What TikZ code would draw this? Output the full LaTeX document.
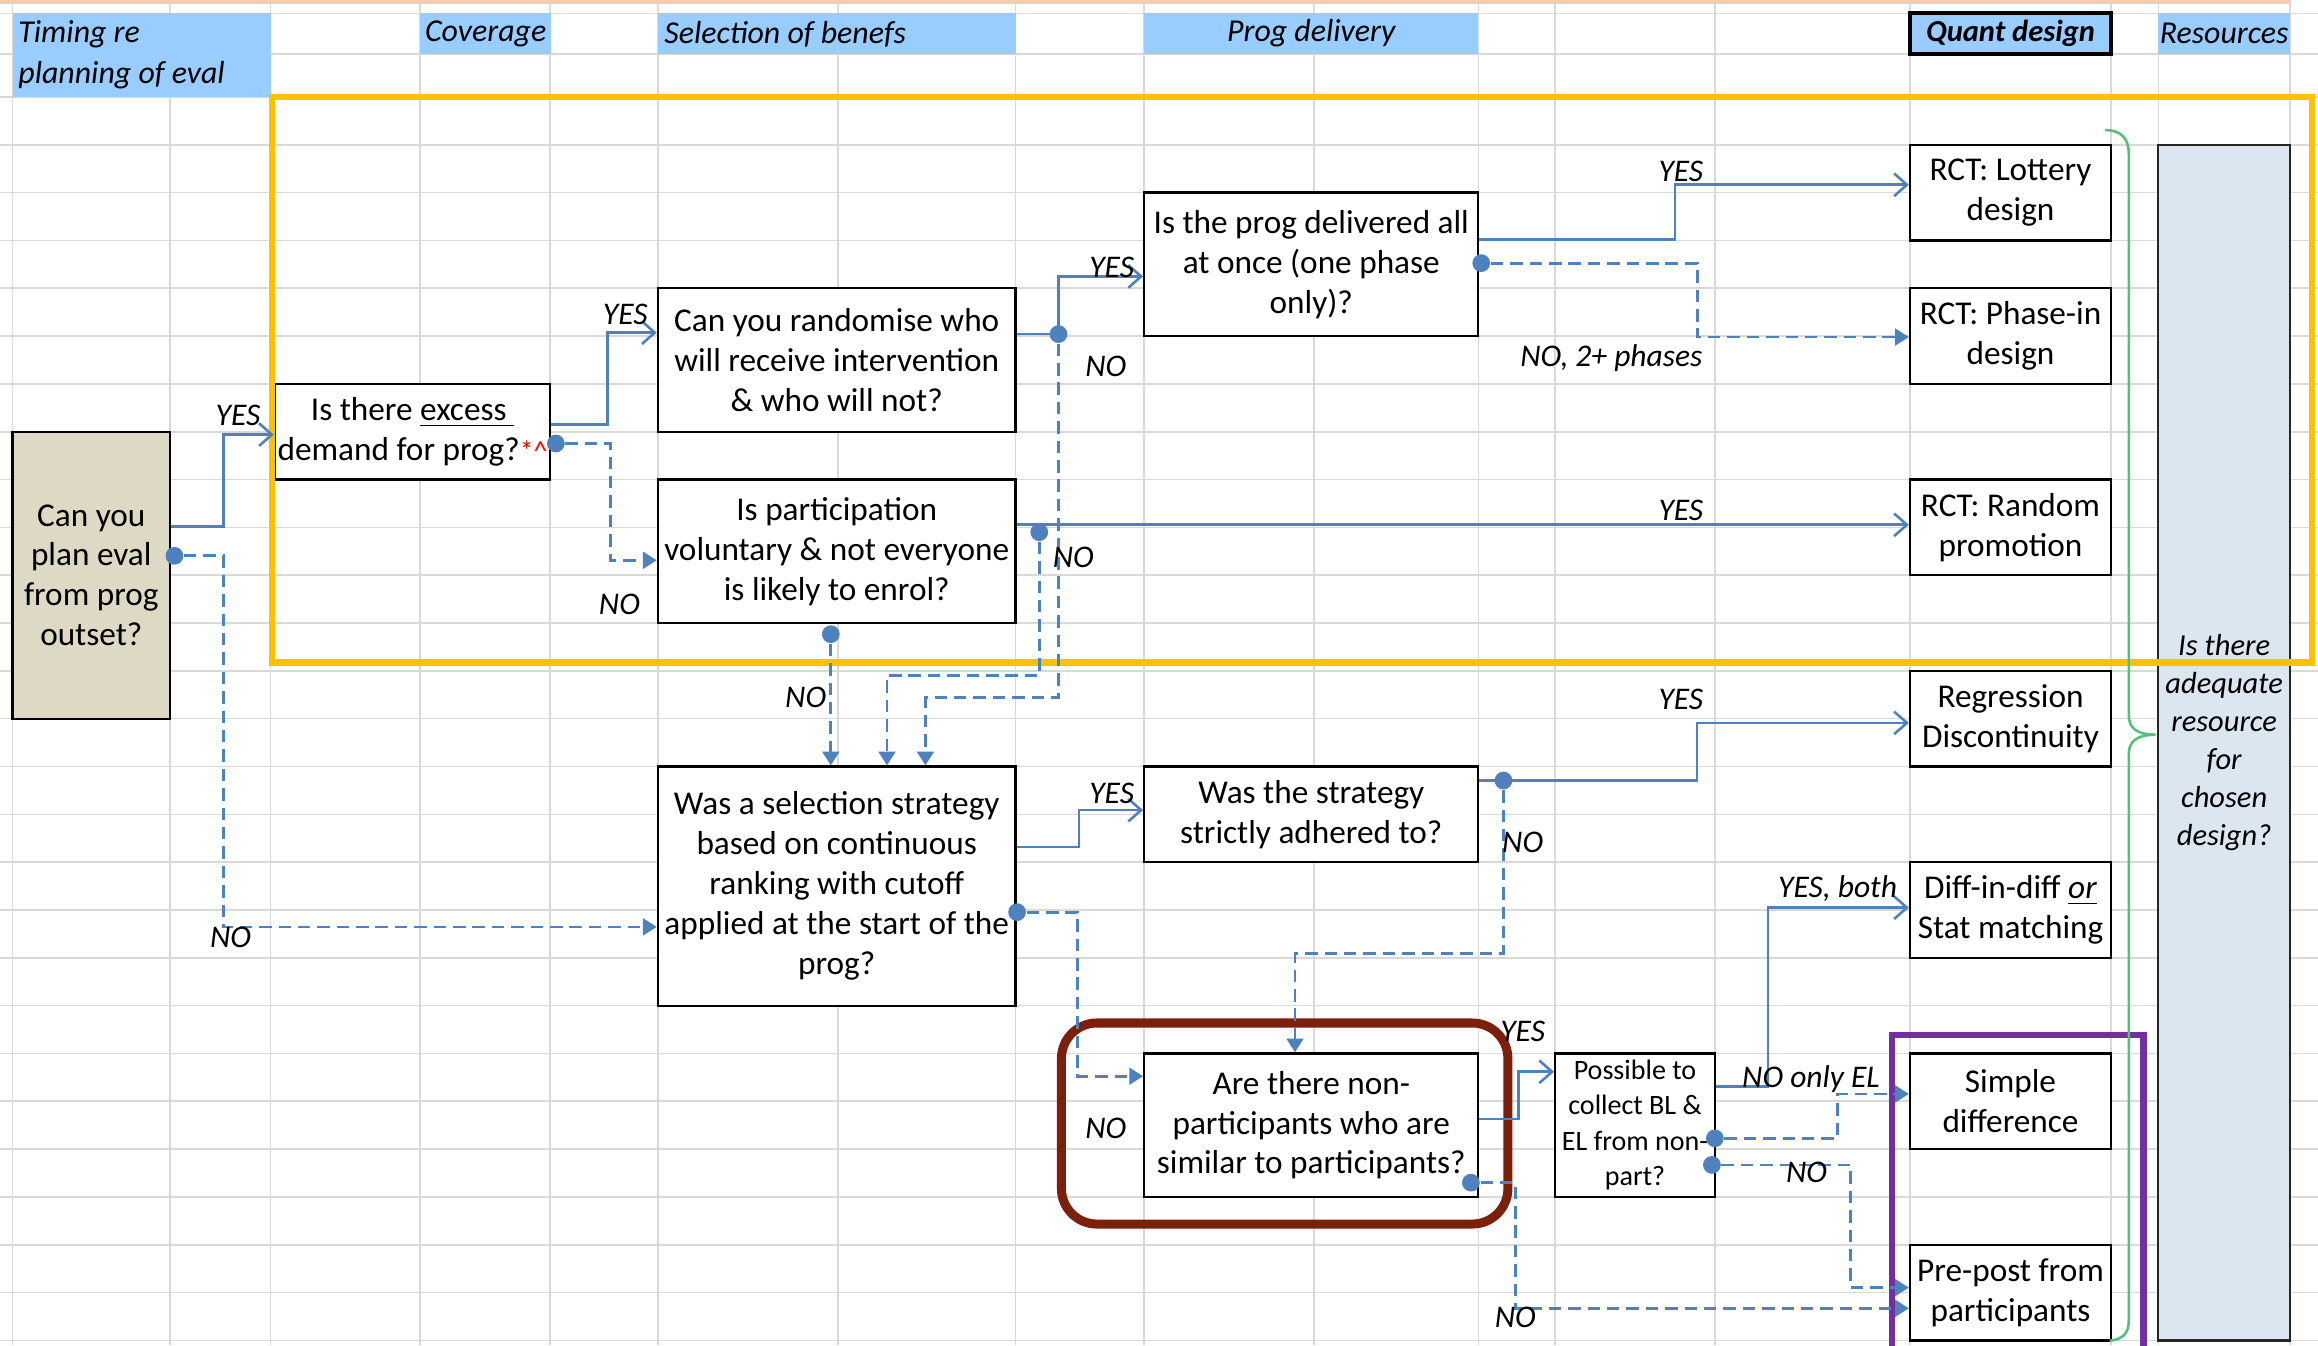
\documentclass[tikz,border=0pt]{standalone}
\usepackage{fontspec}
\setmainfont{Carlito}
\usetikzlibrary{arrows.meta}
\definecolor{hdr}{HTML}{99CCFF}
\definecolor{gridc}{HTML}{D9D9D9}
\definecolor{conn}{HTML}{4F81BD}
\definecolor{tanfill}{HTML}{DDD9C4}
\definecolor{resfill}{HTML}{DCE6F1}
\definecolor{orng}{HTML}{FFC000}
\definecolor{brownc}{HTML}{7A200D}
\definecolor{purp}{HTML}{7030A0}
\definecolor{grn}{HTML}{55C07A}
\definecolor{peach}{HTML}{F8CBAD}
\tikzset{
 gridln/.style={gridc, line width=0.45pt},
 cell/.style={inner sep=0pt, fill=hdr},
 hdrtxt/.style={font=\fontsize{9.2}{11}\selectfont\itshape, inner sep=0pt},
 box/.style={draw=black, line width=0.65pt, fill=white, inner sep=0pt, align=center, font=\fontsize{9.6}{11.52}\selectfont},
 smallbox/.style={box, font=\fontsize{8.1}{10.24}\selectfont},
 yes/.style={draw=conn, line width=0.75pt, -{Straight Barb[length=1.3mm,width=2.3mm]}},
 no/.style={draw=conn, line width=0.8pt, dash pattern=on 3.6pt off 2pt, -{Triangle[length=1.4mm,width=1.7mm]}},
 dot/.style={circle, fill=conn, inner sep=0pt, minimum size=1.8mm},
 lbl/.style={font=\fontsize{9.1}{11}\selectfont\itshape, inner sep=0pt},
}
% #1 style, #2 name, #3 x1, #4 y1, #5 x2, #6 y2, #7 text
\newcommand\placebox[7][]{\node[#1, minimum width={(#5-#3)*0.15mm}, minimum height={(#6-#4)*0.15mm}] (#2) at ({(#3+#5)/2},{(#4+#6)/2}) {#7};}
\begin{document}
\begin{tikzpicture}[x=0.015cm,y=-0.015cm]
\useasboundingbox (0,0) rectangle (1568,910);
\fill[white] (0,0) rectangle (1568,910);
% grid
\foreach \x in {8.5,115,183,284,372,445,567,687,774,889,1000,1052,1160,1292,1428,1460,1549}
  \draw[gridln] (\x,0) -- (\x,910);
\foreach \y in {9,36.5,65.6}
  \draw[gridln] (0,\y) -- (1568,\y);
\foreach \k in {1,...,26}
  \draw[gridln] (0,{65.6+32.35*\k}) -- (1568,{65.6+32.35*\k});
\draw[peach, line width=1.2pt] (0,1.5) -- (1549,1.5);
% header
\placebox[cell]{hc1}{8.5}{9}{183}{65.6}{}
\node[hdrtxt, anchor=west] (h1a) at (12,23) {Timing re};
\node[hdrtxt, anchor=west] (h1b) at (12,51) {planning of eval};
\placebox[cell,hdrtxt]{hc2}{284}{9}{373}{36.5}{Coverage}
\placebox[cell]{hc3}{445}{9}{687}{36.5}{}
\node[hdrtxt, anchor=west] (h3) at (449,23) {Selection of benefs};
\placebox[cell,hdrtxt]{hc4}{774}{9}{1000}{36.5}{Prog delivery}
\placebox[cell, draw=black, line width=1.2pt, font=\fontsize{8.8}{11}\selectfont\bfseries\itshape]{hc5}{1292}{9}{1428}{36.5}{Quant design}
\placebox[cell,hdrtxt]{hc6}{1460}{9}{1549}{36.5}{Resources}
% resource column
\placebox[inner sep=0pt, draw=black!85, fill=resfill, line width=0.65pt, align=center, font=\fontsize{8.8}{11}\selectfont\itshape]{res}{1460}{98}{1549}{906.7}{Is there\\adequate\\resource\\for\\chosen\\design?}
% boxes
\placebox[box, fill=tanfill]{plan}{8.5}{292}{115}{486.2}{Can you\\plan eval\\from prog\\outset?}
\placebox[box]{excess}{186}{259.7}{372}{324.4}{Is there \underline{excess~}\\demand for prog?{\color{red}\footnotesize*\textasciicircum}}
\placebox[box]{rand}{445}{195}{687}{292}{Can you randomise who\\will receive intervention\\\& who will not?}
\placebox[box]{part}{445}{324.4}{687}{421.5}{Is participation\\voluntary \& not everyone\\is likely to enrol?}
\placebox[box]{deliv}{774}{130.3}{1000}{227.4}{Is the prog delivered all\\at once (one phase\\only)?}
\placebox[box]{lott}{1292}{98}{1428}{162.7}{RCT: Lottery\\design}
\placebox[box]{phase}{1292}{195}{1428}{259.7}{RCT: Phase-in\\design}
\placebox[box]{rprom}{1292}{324.4}{1428}{389.1}{RCT: Random\\promotion}
\placebox[box]{regr}{1292}{453.8}{1428}{518.5}{Regression\\Discontinuity}
\placebox[box]{diff}{1292}{583.2}{1428}{647.9}{Diff-in-diff \underline{\textit{or}}\\Stat matching}
\placebox[box]{simple}{1292}{712.6}{1428}{777.3}{Simple\\difference}
\placebox[box]{prepost}{1292}{842}{1428}{906.7}{Pre-post from\\participants}
\placebox[box]{sel}{445}{518.5}{687}{680.3}{Was a selection strategy\\based on continuous\\ranking with cutoff\\applied at the start of the\\prog?}
\placebox[box]{strict}{774}{518.5}{1000}{583.2}{Was the strategy\\strictly adhered to?}
\placebox[box]{nonp}{774}{712.6}{1000}{809.7}{Are there non-\\participants who are\\similar to participants?}
\placebox[smallbox]{poss}{1052}{712.6}{1160}{809.7}{Possible to\\collect BL \&\\EL from non-\\part?}
% frames
\draw[orng, line width=1.9pt] (184,65.5) rectangle (1564,448);
\draw[brownc, line width=2.6pt, rounded corners=3.6mm] (718,692) rectangle (1020,828);
\draw[purp, line width=1.8pt] (1280,915) -- (1280,700) -- (1450,700) -- (1450,915);
\draw[grn, line width=0.75pt] (1424,88) .. controls (1435,88) and (1440,94) .. (1440,104) -- (1440,484) .. controls (1440,492) and (1445,497) .. (1458,497);
\draw[grn, line width=0.75pt] (1458,497) .. controls (1445,497) and (1440,502) .. (1440,510) -- (1440,893) .. controls (1440,902) and (1436,906) .. (1427,907);
% dots
\node[dot] (d1) at (118,376) {};
\node[dot] (d2) at (376,300) {};
\node[dot] (d3) at (716,226) {};
\node[dot] (d4) at (703,360) {};
\node[dot] (d5) at (562,429) {};
\node[dot] (d6) at (1002,178) {};
\node[dot] (d7) at (688,617) {};
\node[dot] (d8) at (1017,528) {};
\node[dot] (d9) at (995,800) {};
\node[dot] (d10) at (1160,770) {};
\node[dot] (d11) at (1158,788) {};
% connectors
\draw[yes] (plan.east |- 0,356) -| (151,294) -- (excess.west |- 0,294);
\draw[no] (d1) -| (151,627) -- (sel.west |- 0,627);
\draw[yes] (excess.east |- 0,287) -| (411,225) -- (rand.west |- 0,225);
\draw[no] (d2) -| (413,379) -- (part.west |- 0,379);
\draw[yes] (rand.east |- 0,226) -| (716,187) -- (deliv.west |- 0,187);
\draw[no] (d3) |- (626,472) -- (sel.north -| 626,0);
\draw[yes] (part.east |- 0,355) -- (rprom.west |- 0,355);
\draw[no] (d4) |- (600,457) -- (sel.north -| 600,0);
\draw[no] (d5) -- (d5 |- sel.north);
\draw[yes] (deliv.east |- 0,162) -| (1133,125) -- (lott.west |- 0,125);
\draw[no] (d6) -| (1148,228) -- (phase.west |- 0,228);
\draw[yes] (sel.east |- 0,573) -| (730,548) -- (strict.west |- 0,548);
\draw[no] (d7) -| (729,728) -- (nonp.west |- 0,728);
\draw[yes] (strict.east |- 0,528) -| (1148,489) -- (regr.west |- 0,489);
\draw[no] (d8) |- (876,645) -- (nonp.north -| 876,0);
\draw[yes] (nonp.east |- 0,757) -| (1027,725) -- (poss.west |- 0,725);
\draw[no] (d9) -| (1025,885) -- (prepost.west |- 0,885);
\draw[yes] (poss.east |- 0,735) -| (1196,614) -- (diff.west |- 0,614);
\draw[no] (d10) -| (1243,740) -- (simple.west |- 0,740);
\draw[no] (d11) -| (1252,871) -- (prepost.west |- 0,871);
% labels
\node[lbl] (l1) at (161,281) {YES};
\node[lbl] (l2) at (156,634) {NO};
\node[lbl] (l3) at (423,213) {YES};
\node[lbl] (l4) at (419,409) {NO};
\node[lbl] (l5) at (752,181) {YES};
\node[lbl] (l6) at (748,248) {NO};
\node[lbl] (l7) at (726,377) {NO};
\node[lbl] (l8) at (545,472) {NO};
\node[lbl] (l9) at (1137,116) {YES};
\node[lbl] (l10) at (1090,242) {NO, 2+ phases};
\node[lbl] (l11) at (1137,345) {YES};
\node[lbl] (l12) at (1137,473) {YES};
\node[lbl] (l13) at (752,537) {YES};
\node[lbl] (l14) at (1030,570) {NO};
\node[lbl] (l15) at (748,763) {NO};
\node[lbl] (l16) at (1030,698) {YES};
\node[lbl] (l17) at (1025,891) {NO};
\node[lbl] (l18) at (1243,601) {YES, both};
\node[lbl] (l19) at (1225,730) {NO only EL};
\node[lbl] (l20) at (1222,793) {NO};
\end{tikzpicture}
\end{document}
